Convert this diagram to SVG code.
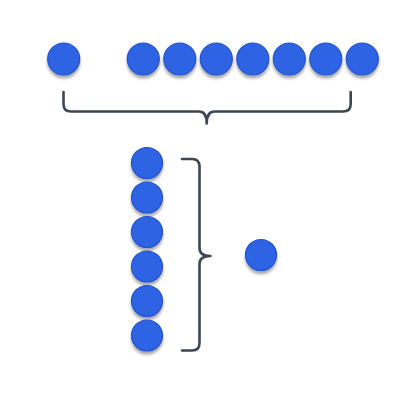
<svg xmlns="http://www.w3.org/2000/svg" width="400" height="400" viewBox="0 0 400 400">
<defs>
<filter id="sh" x="-40%" y="-40%" width="180%" height="190%">
<feGaussianBlur in="SourceAlpha" stdDeviation="1.6"/>
<feOffset dy="2.5" result="b"/>
<feComponentTransfer><feFuncA type="linear" slope="0.35"/></feComponentTransfer>
<feMerge><feMergeNode/><feMergeNode in="SourceGraphic"/></feMerge>
</filter>
</defs>
<style>
.c{fill:#2f63e3;stroke:#2453cc;stroke-width:1.2;filter:url(#sh)}
.br{fill:none;stroke:#3e4654;stroke-width:2.6;stroke-linecap:round;stroke-linejoin:round}
</style>
<rect width="400" height="400" fill="#ffffff"/>
<g id="top-row">
<circle class="c" cx="63.7" cy="59" r="16"/>
<circle class="c" cx="143.3" cy="59" r="16"/>
<circle class="c" cx="179.8" cy="59" r="16"/>
<circle class="c" cx="216.3" cy="59" r="16"/>
<circle class="c" cx="252.8" cy="59" r="16"/>
<circle class="c" cx="289.3" cy="59" r="16"/>
<circle class="c" cx="325.8" cy="59" r="16"/>
<circle class="c" cx="362.3" cy="59" r="16"/>
</g>
<g id="column">
<circle class="c" cx="147" cy="163" r="15.5"/>
<circle class="c" cx="147" cy="197.5" r="15.5"/>
<circle class="c" cx="147" cy="232" r="15.5"/>
<circle class="c" cx="147" cy="266.5" r="15.5"/>
<circle class="c" cx="147" cy="301" r="15.5"/>
<circle class="c" cx="147" cy="335.5" r="15.5"/>
</g>
<g id="single">
<circle class="c" cx="261" cy="255" r="15.5"/>
</g>
<g id="braces">
<path class="br" d="M63.5,92 V104 Q63.5,111.5 71,111.5 H199 Q206.7,111.5 206.7,123.5 Q206.7,111.5 214.5,111.5 H343 Q350.7,111.5 350.7,104 V92"/>
<path class="br" d="M182,159 H192 Q199.5,159 199.5,166.5 V248 Q199.5,256 210.5,256 Q199.5,256 199.5,264 V343 Q199.5,350.5 192,350.5 H182"/>
</g>
</svg>
